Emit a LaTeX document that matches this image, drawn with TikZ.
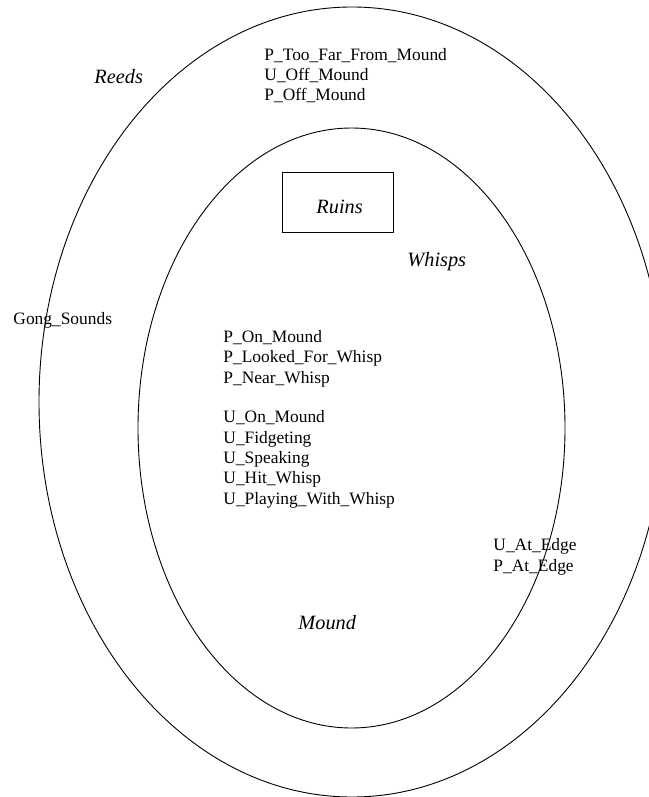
\documentclass[tikz,border=0pt]{standalone}
\usepackage{fontspec}
\setmainfont{Liberation Serif}
\usetikzlibrary{shapes.geometric}

\begin{document}
\begin{tikzpicture}[x=1pt,y=-1pt,
						line width=0.9pt,
						area/.style={draw,ellipse,inner sep=0pt},
						entry/.style={anchor=base west,align=left,inner sep=0pt,
						font=\fontsize{17.4}{20.3}\selectfont},
						place/.style={anchor=base west,inner sep=0pt,
						font=\fontsize{20.3}{24}\selectfont\itshape}]

		\useasboundingbox (0,0) rectangle (648,797);

		% regions
		\node [area,minimum width=626pt,minimum height=790pt] (reedsarea) at (352,402) {};
		\node [area,minimum width=427pt,minimum height=600pt] (moundarea) at (351.5,428) {};
		\node [draw,minimum width=111pt,minimum height=60pt,inner sep=0pt] (ruinsbox) at (337.5,202) {};

		\node [place] (reeds) at (94,84) {Reeds};
		\node [place] (ruins) at (316,213) {Ruins};
		\node [place] (whisps) at (407,266) {Whisps};
		\node [place] (mound) at (298,629) {Mound};

		% states (base = last line)
		\node [entry] (offmound) at (264,101) {P\_Too\_Far\_From\_Mound\\U\_Off\_Mound\\P\_Off\_Mound};
		\node [entry] (gong) at (13,324) {Gong\_Sounds};
		\node [entry] (ponmound) at (223,383) {P\_On\_Mound\\P\_Looked\_For\_Whisp\\P\_Near\_Whisp};
		\node [entry] (uonmound) at (223,504) {U\_On\_Mound\\U\_Fidgeting\\U\_Speaking\\U\_Hit\_Whisp\\U\_Playing\_With\_Whisp};
		\node [entry] (atedge) at (493,571) {U\_At\_Edge\\P\_At\_Edge};

	\end{tikzpicture}
\end{document}
